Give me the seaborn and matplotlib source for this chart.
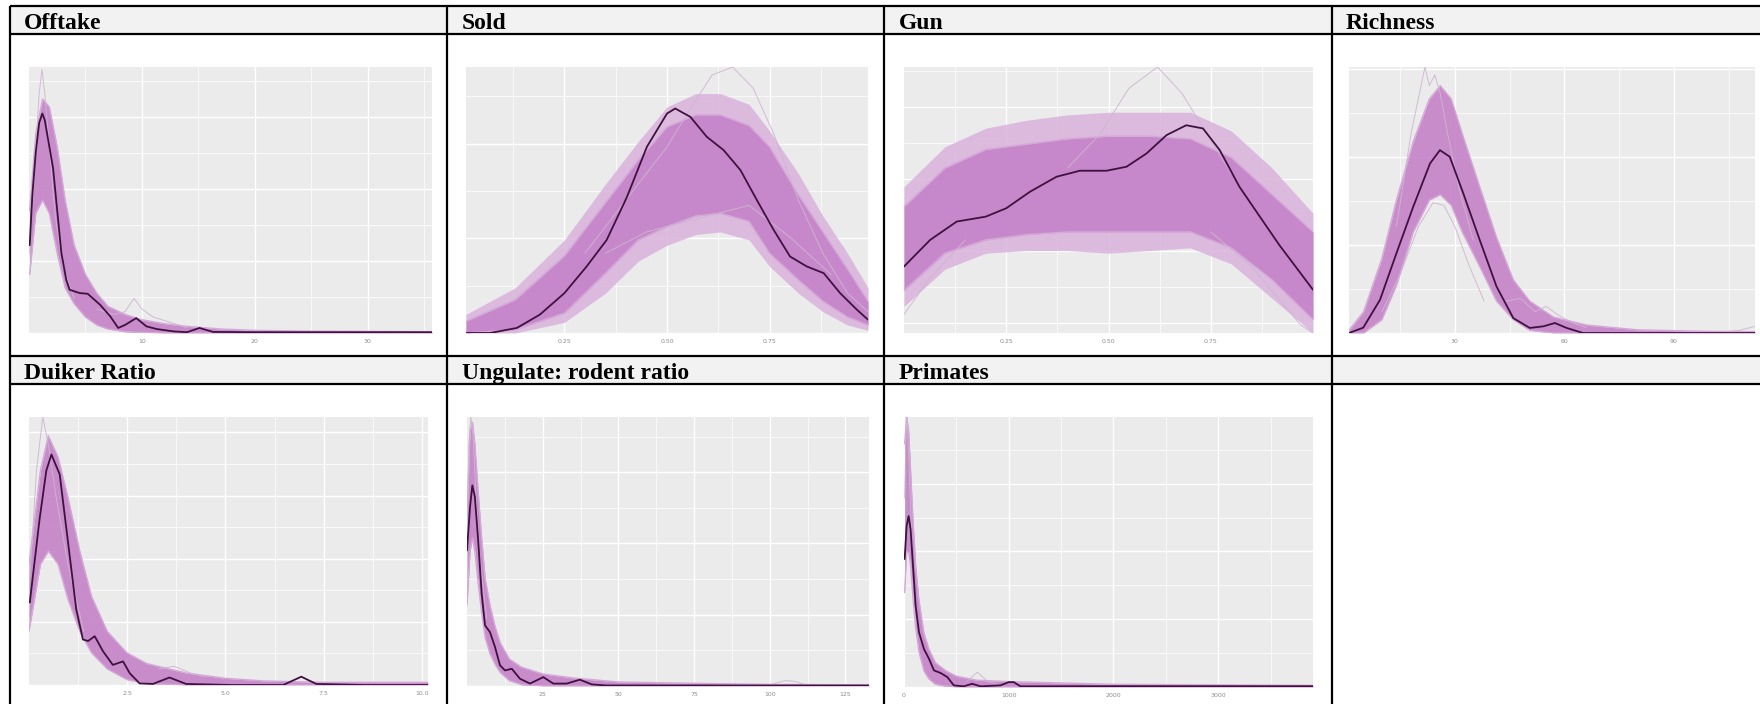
import numpy as np
import pandas as pd
import matplotlib
matplotlib.use("Agg")
import matplotlib.pyplot as plt
import seaborn as sns

sns.set_theme(style="white")
plt.rcParams['font.family'] = ['DejaVu Sans']

# ---------------- data (y = share of panel height) ----------------
TITLES = ["Offtake", "Sold", "Gun", "Richness",
          "Duiker Ratio", "Ungulate: rodent ratio", "Primates", ""]

# Offtake
OFF_OBS_X = [0.06, 0.3, 0.6, 0.9, 1.18, 1.4, 1.6, 2.13, 2.5, 2.87, 3.3, 3.6, 4.5, 5.2, 6.3, 7.2, 7.9, 8.5, 9.5, 10.4, 11.3, 12.8, 14.0, 15.1, 16.3, 20.0, 30.0, 35.7]
OFF_OBS_Y = [0.33, 0.52, 0.68, 0.79, 0.825, 0.80, 0.75, 0.62, 0.46, 0.30, 0.20, 0.1625, 0.15, 0.1475, 0.106, 0.0625, 0.019, 0.03, 0.056, 0.025, 0.015, 0.006, 0.003, 0.019, 0.004, 0.003, 0.003, 0.003]
OFF_BAND_X = [0.06, 0.6, 1.2, 1.8, 2.5, 3.2, 4.0, 5.0, 6.0, 7.0, 8.5, 10.0, 12.0, 14.0, 17.0, 20.0, 25.0, 30.0, 35.7]
OFF_BAND_LO = [0.22, 0.45, 0.50, 0.45, 0.30, 0.17, 0.11, 0.06, 0.03, 0.015, 0.005, 0.002, 0.0, 0.0, 0.0, 0.0, 0.0, 0.0, 0.0]
OFF_BAND_HI = [0.46, 0.75, 0.88, 0.85, 0.70, 0.50, 0.33, 0.22, 0.15, 0.10, 0.07, 0.05, 0.035, 0.025, 0.015, 0.010, 0.007, 0.006, 0.005]
OFF_OUT = [([0.06, 0.5, 0.9, 1.15, 1.4, 1.8, 2.3, 3.0, 4.0], [0.30, 0.62, 0.90, 0.99, 0.90, 0.70, 0.45, 0.25, 0.13]),
           ([6.0, 7.5, 8.5, 9.3, 10.0, 11.0, 12.5, 14.0], [0.09, 0.07, 0.08, 0.13, 0.09, 0.06, 0.04, 0.02])]

# Sold
SOLD_OBS_X = [0.01, 0.069, 0.134, 0.19, 0.25, 0.304, 0.353, 0.402, 0.451, 0.50, 0.52, 0.557, 0.597, 0.638, 0.679, 0.719, 0.76, 0.80, 0.841, 0.882, 0.922, 0.963, 0.99]
SOLD_OBS_Y = [0.0, 0.0, 0.019, 0.069, 0.15, 0.25, 0.35, 0.51, 0.70, 0.825, 0.844, 0.8125, 0.7375, 0.6875, 0.6125, 0.50, 0.3875, 0.2875, 0.25, 0.225, 0.15, 0.0875, 0.05]
SOLD_BAND_X = [0.01, 0.13, 0.25, 0.35, 0.43, 0.50, 0.57, 0.63, 0.70, 0.75, 0.82, 0.88, 0.94, 0.99]
SOLD_BAND_LO = [0.0, 0.0125, 0.075, 0.225, 0.35, 0.40, 0.44, 0.45, 0.42, 0.30, 0.20, 0.12, 0.06, 0.03]
SOLD_BAND_HI = [0.044, 0.125, 0.29, 0.49, 0.65, 0.775, 0.82, 0.82, 0.78, 0.70, 0.52, 0.38, 0.24, 0.12]
SOLD_WIDE_LO = [0.0, 0.0, 0.04, 0.15, 0.27, 0.33, 0.37, 0.38, 0.35, 0.25, 0.15, 0.08, 0.03, 0.01]
SOLD_WIDE_HI = [0.07, 0.17, 0.35, 0.56, 0.72, 0.85, 0.90, 0.90, 0.86, 0.76, 0.60, 0.44, 0.30, 0.17]
SOLD_OUT = [([0.30, 0.40, 0.50, 0.56, 0.61, 0.66, 0.71, 0.76, 0.82, 0.88, 0.94, 0.99], [0.30, 0.50, 0.70, 0.85, 0.97, 1.0, 0.92, 0.75, 0.50, 0.30, 0.15, 0.08]),
            ([0.35, 0.45, 0.55, 0.65, 0.70, 0.80, 0.90], [0.30, 0.38, 0.42, 0.46, 0.48, 0.36, 0.22])]

# Gun
GUN_OBS_X = [0.0, 0.064, 0.129, 0.20, 0.25, 0.308, 0.373, 0.43, 0.495, 0.544, 0.593, 0.642, 0.69, 0.731, 0.772, 0.82, 0.87, 0.918, 0.967, 1.0]
GUN_OBS_Y = [0.25, 0.35, 0.419, 0.4375, 0.469, 0.531, 0.5875, 0.61, 0.61, 0.625, 0.675, 0.744, 0.781, 0.769, 0.6875, 0.55, 0.4375, 0.33, 0.23, 0.1625]
GUN_BAND_X = [0.0, 0.1, 0.2, 0.3, 0.4, 0.5, 0.6, 0.7, 0.8, 0.9, 1.0]
GUN_BAND_LO = [0.16, 0.30, 0.35, 0.37, 0.38, 0.38, 0.38, 0.38, 0.32, 0.20, 0.05]
GUN_BAND_HI = [0.475, 0.62, 0.69, 0.71, 0.73, 0.74, 0.74, 0.73, 0.66, 0.52, 0.38]
GUN_WIDE_LO = [0.10, 0.24, 0.30, 0.31, 0.31, 0.30, 0.31, 0.32, 0.26, 0.13, 0.0]
GUN_WIDE_HI = [0.55, 0.70, 0.77, 0.80, 0.82, 0.83, 0.83, 0.83, 0.76, 0.62, 0.45]
GUN_OUT = [([0.40, 0.48, 0.55, 0.62, 0.68, 0.74, 0.80], [0.62, 0.75, 0.92, 1.0, 0.90, 0.75, 0.60]),
           ([0.75, 0.85, 0.92, 0.97, 1.0], [0.38, 0.25, 0.12, 0.03, 0.0]),
           ([0.0, 0.06, 0.15], [0.07, 0.20, 0.35])]

# Richness
RICH_OBS_X = [1.0, 4.9, 9.5, 14.0, 18.6, 23.2, 25.9, 28.6, 32.3, 36.8, 41.4, 46.0, 50.5, 54.2, 57.4, 60.6, 65.1, 80.0, 112.2]
RICH_OBS_Y = [0.0, 0.02, 0.125, 0.30, 0.475, 0.6375, 0.6875, 0.6625, 0.525, 0.35, 0.175, 0.056, 0.019, 0.025, 0.0375, 0.019, 0.0, 0.0, 0.0]
RICH_BAND_X = [1.0, 5.0, 10.0, 14.0, 18.6, 23.0, 26.0, 29.0, 32.0, 36.8, 41.4, 46.0, 50.5, 57.0, 66.0, 80.0, 100.0, 112.2]
RICH_BAND_LO = [0.0, 0.0, 0.05, 0.18, 0.38, 0.50, 0.52, 0.48, 0.38, 0.25, 0.12, 0.05, 0.01, 0.0, 0.0, 0.0, 0.0, 0.0]
RICH_BAND_HI = [0.01, 0.08, 0.28, 0.50, 0.72, 0.88, 0.93, 0.88, 0.75, 0.55, 0.36, 0.20, 0.12, 0.06, 0.03, 0.012, 0.006, 0.005]
RICH_OUT = [([14, 18, 21.8, 23, 24.5, 26, 28, 31, 35], [0.40, 0.75, 1.0, 0.93, 0.97, 0.90, 0.75, 0.55, 0.35]),
            ([10, 15, 20, 24, 27, 30, 34, 38], [0.08, 0.22, 0.40, 0.49, 0.48, 0.40, 0.25, 0.12]),
            ([44, 48, 52, 55, 58, 62, 66], [0.12, 0.13, 0.08, 0.10, 0.07, 0.04, 0.02]),
            ([104, 108, 112.2], [0.005, 0.01, 0.025])]

# Duiker Ratio
DUI_OBS_X = [0.03, 0.28, 0.45, 0.58, 0.79, 1.0, 1.21, 1.38, 1.51, 1.68, 1.89, 2.14, 2.4, 2.57, 2.82, 3.16, 3.58, 4.0, 5.2, 6.47, 6.93, 7.31, 8.5, 10.15]
DUI_OBS_Y = [0.308, 0.62, 0.80, 0.86, 0.786, 0.535, 0.283, 0.17, 0.164, 0.182, 0.126, 0.075, 0.088, 0.044, 0.006, 0.004, 0.028, 0.004, 0.0, 0.0, 0.031, 0.004, 0.0, 0.0]
DUI_BAND_X = [0.01, 0.3, 0.5, 0.75, 1.0, 1.3, 1.6, 2.0, 2.5, 3.0, 4.0, 5.0, 6.0, 7.5, 9.0, 10.15]
DUI_BAND_LO = [0.20, 0.45, 0.50, 0.45, 0.32, 0.20, 0.12, 0.06, 0.02, 0.005, 0.0, 0.0, 0.0, 0.0, 0.0, 0.0]
DUI_BAND_HI = [0.45, 0.80, 0.93, 0.85, 0.70, 0.50, 0.33, 0.20, 0.12, 0.08, 0.045, 0.025, 0.015, 0.01, 0.01, 0.01]
DUI_OUT = [([0.01, 0.2, 0.36, 0.5, 0.7, 1.0, 1.4], [0.35, 0.80, 1.0, 0.90, 0.70, 0.45, 0.20]),
           ([3.3, 3.7, 4.1, 4.5], [0.06, 0.07, 0.045, 0.03])]

# Ungulate: rodent ratio
UNG_OBS_X = [0.0, 1.0, 1.76, 2.6, 3.7, 4.85, 5.95, 7.6, 9.25, 10.9, 12.55, 14.8, 17.5, 20.8, 25.2, 28.5, 32.9, 37.3, 41.2, 46.1, 80.0, 132.8]
UNG_OBS_Y = [0.504, 0.665, 0.746, 0.703, 0.54, 0.343, 0.2255, 0.20, 0.145, 0.077, 0.058, 0.064, 0.027, 0.009, 0.033, 0.009, 0.009, 0.0235, 0.006, 0.002, 0.002, 0.002]
UNG_BAND_X = [0.0, 1.0, 1.8, 2.6, 3.7, 4.85, 6.0, 7.6, 9.3, 11.0, 14.0, 18.0, 25.0, 35.0, 50.0, 75.0, 100.0, 132.8]
UNG_BAND_LO = [0.30, 0.50, 0.55, 0.50, 0.38, 0.27, 0.18, 0.12, 0.08, 0.05, 0.02, 0.005, 0.0, 0.0, 0.0, 0.0, 0.0, 0.0]
UNG_BAND_HI = [0.63, 0.95, 0.98, 0.90, 0.72, 0.55, 0.40, 0.30, 0.22, 0.16, 0.10, 0.07, 0.045, 0.03, 0.015, 0.01, 0.006, 0.004]
UNG_OUT = [([0.0, 0.7, 1.3, 2.0, 3.0, 4.5, 6.5], [0.60, 0.92, 1.0, 0.93, 0.70, 0.45, 0.25]),
           ([100, 105, 108, 112], [0.004, 0.02, 0.018, 0.004])]

# Primates
PRI_OBS_X = [6, 25, 44, 63, 86, 111, 143, 190, 238, 286, 349, 413, 476, 571, 651, 730, 920, 1000, 1048, 1111, 2000, 3905]
PRI_OBS_Y = [0.474, 0.597, 0.633, 0.584, 0.449, 0.301, 0.203, 0.141, 0.105, 0.0615, 0.052, 0.037, 0.006, 0.0025, 0.012, 0.0025, 0.006, 0.018, 0.018, 0.0025, 0.003, 0.003]
PRI_BAND_X = [6, 25, 44, 63, 86, 111, 143, 190, 238, 300, 400, 500, 700, 1000, 1500, 2000, 3000, 3905]
PRI_BAND_LO = [0.35, 0.50, 0.50, 0.45, 0.33, 0.22, 0.13, 0.06, 0.03, 0.01, 0.003, 0.0, 0.0, 0.0, 0.0, 0.0, 0.0, 0.0]
PRI_BAND_HI = [0.90, 1.0, 0.95, 0.80, 0.62, 0.45, 0.32, 0.20, 0.14, 0.09, 0.06, 0.04, 0.025, 0.02, 0.015, 0.01, 0.008, 0.006]
PRI_OUT = [([6, 20, 30, 45, 70, 100, 140], [0.70, 0.95, 1.0, 0.85, 0.60, 0.35, 0.20]),
           ([600, 700, 800, 900], [0.02, 0.055, 0.02, 0.01])]

# x axes
XLIMS = [(0, 35.7), (0.01, 0.99), (0.0, 1.0), (1.0, 112.2), (0.01, 10.15), (0.0, 132.8), (6, 3905)]
XMAJOR = [[10, 20, 30], [0.25, 0.5, 0.75], [0.25, 0.5, 0.75], [30, 60, 90],
          [2.5, 5.0, 7.5, 10.0], [25, 50, 75, 100, 125], [0, 1000, 2000, 3000]]
XLABELS = [["10", "20", "30"], ["0.25", "0.50", "0.75"], ["0.25", "0.50", "0.75"], ["30", "60", "90"],
           ["2.5", "5.0", "7.5", "10.0"], ["25", "50", "75", "100", "125"], ["0", "1000", "2000", "3000"]]
XMINOR = [[5, 15, 25, 35], [0.125, 0.375, 0.625, 0.875], [0.125, 0.375, 0.625, 0.875], [15, 45, 75, 105],
          [1.25, 3.75, 6.25, 8.75], [12.5, 37.5, 62.5, 87.5, 112.5], [500, 1500, 2500, 3500]]

# ---------------- layout (pixels) ----------------
W, H = 1760, 704
fig = plt.figure(figsize=(W / 100, H / 100), dpi=100)
bg = fig.add_axes([0, 0, 1, 1], zorder=0)
bg.set_xlim(0, W)
bg.set_ylim(H, 0)
bg.axis("off")

HEAD_ROWS = [(6, 34), (356, 384)]
COL_LINES = [10, 447, 884, 1332]
for (t, b) in HEAD_ROWS:
    bg.fill_between([COL_LINES[0], W], t, b, color="#f2f2f2", lw=0)
    bg.plot([COL_LINES[0], W], [t, t], color="black", lw=1.6, solid_capstyle="butt")
    bg.plot([COL_LINES[0], W], [b, b], color="black", lw=1.6, solid_capstyle="butt")
for cx in COL_LINES:
    bg.plot([cx, cx], [6, H], color="black", lw=1.6, solid_capstyle="butt")

title_x = [24, 462, 899, 1346]
title_base = [29, 379]
for i, t in enumerate(TITLES):
    r, c = divmod(i, 4)
    if t:
        bg.text(title_x[c], title_base[r], t, fontsize=17, fontweight="bold",
                family=["Liberation Serif", "DejaVu Serif"], va="baseline", ha="left", color="black")

PANELS = [(29, 432, 67, 333), (466, 868, 67, 333), (904, 1313, 67, 333), (1349, 1755, 67, 333),
          (29, 428, 417, 685), (467, 869, 417, 686), (904, 1313, 417, 687)]
YSTEP = [0.1355, 0.178, 0.1356, 0.1655, 0.1178, 0.1325, 0.1255]
YOFF = [0.0, 0.0, 0.0375, 0.0, 0.0, 0.0, 0.0]

DATA = [
    (OFF_OBS_X, OFF_OBS_Y, OFF_BAND_X, OFF_BAND_LO, OFF_BAND_HI, None, None, OFF_OUT),
    (SOLD_OBS_X, SOLD_OBS_Y, SOLD_BAND_X, SOLD_BAND_LO, SOLD_BAND_HI, SOLD_WIDE_LO, SOLD_WIDE_HI, SOLD_OUT),
    (GUN_OBS_X, GUN_OBS_Y, GUN_BAND_X, GUN_BAND_LO, GUN_BAND_HI, GUN_WIDE_LO, GUN_WIDE_HI, GUN_OUT),
    (RICH_OBS_X, RICH_OBS_Y, RICH_BAND_X, RICH_BAND_LO, RICH_BAND_HI, None, None, RICH_OUT),
    (DUI_OBS_X, DUI_OBS_Y, DUI_BAND_X, DUI_BAND_LO, DUI_BAND_HI, None, None, DUI_OUT),
    (UNG_OBS_X, UNG_OBS_Y, UNG_BAND_X, UNG_BAND_LO, UNG_BAND_HI, None, None, UNG_OUT),
    (PRI_OBS_X, PRI_OBS_Y, PRI_BAND_X, PRI_BAND_LO, PRI_BAND_HI, None, None, PRI_OUT),
]

BAND_C = "#c584c9"
WIDE_C = "#d9b2dc"
EDGE_C = "#d4a8d7"
OUT_C = "#cdb6d0"
OBS_C = "#3f113f"

for k, (ox, oy, bx, blo, bhi, wlo, whi, outs) in enumerate(DATA):
    x0, x1, y0, y1 = PANELS[k]
    ax = fig.add_axes([x0 / W, 1 - y1 / H, (x1 - x0) / W, (y1 - y0) / H], zorder=2)
    ax.set_facecolor("#ebebeb")
    for s in ax.spines.values():
        s.set_visible(False)
    ax.set_xlim(*XLIMS[k])
    ax.set_ylim(0, 1)
    ax.set_xticks(XMAJOR[k])
    ax.set_xticklabels(XLABELS[k])
    ax.set_xticks(XMINOR[k], minor=True)
    yl = list(np.arange(YOFF[k], 1.0, YSTEP[k]))
    ax.set_yticks(yl[::2])
    ax.set_yticks(yl[1::2], minor=True)
    ax.set_yticklabels([])
    ax.grid(which="major", color="white", lw=1.0)
    ax.grid(which="minor", color="white", lw=0.5)
    ax.set_axisbelow(True)
    ax.tick_params(axis="x", which="major", length=2, width=0.6, color="#9a9a9a",
                   labelsize=4.5, labelcolor="#8c8c8c", pad=2)
    ax.tick_params(axis="x", which="minor", length=0)
    ax.tick_params(axis="y", which="both", length=0)

    band = pd.DataFrame({"x": bx, "lo": blo, "hi": bhi})
    if wlo is not None:
        ax.fill_between(band["x"], wlo, whi, color=WIDE_C, alpha=0.85, lw=0, zorder=1.9)
    ax.fill_between(band["x"], band["lo"], band["hi"], color=BAND_C, alpha=0.92, lw=0, zorder=2)
    sns.lineplot(data=band, x="x", y="lo", ax=ax, color=EDGE_C, lw=1.0, estimator=None, sort=False, zorder=2.1)
    sns.lineplot(data=band, x="x", y="hi", ax=ax, color=EDGE_C, lw=1.0, estimator=None, sort=False, zorder=2.1)
    for (qx, qy) in outs:
        sns.lineplot(x=qx, y=qy, ax=ax, color=OUT_C, lw=0.7, alpha=0.9, estimator=None, sort=False, zorder=2.2)
    sns.lineplot(x=ox, y=oy, ax=ax, color=OBS_C, lw=1.3, estimator=None, sort=False, zorder=3)
    ax.set_xlabel("")
    ax.set_ylabel("")

fig.savefig("out.png", dpi=100)
